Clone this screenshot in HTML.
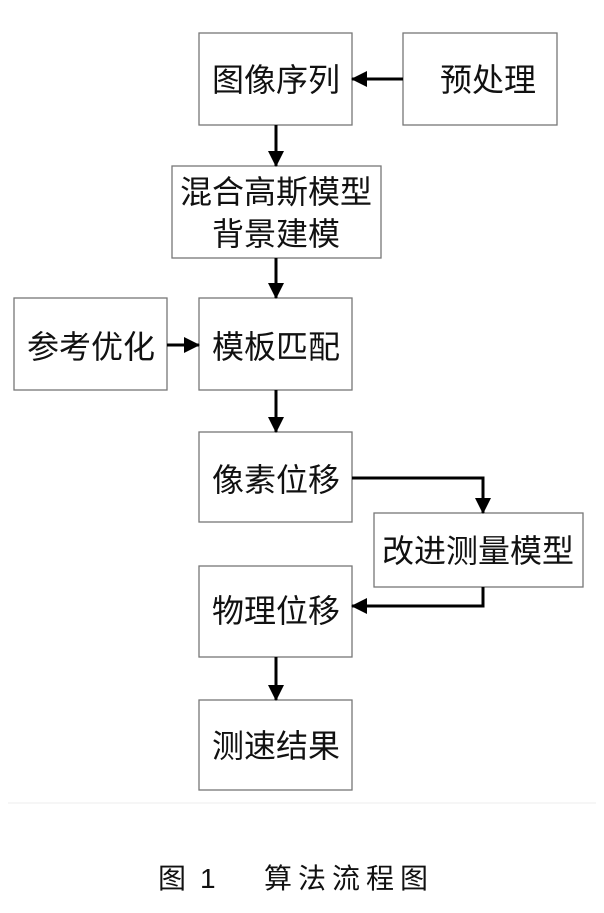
<!DOCTYPE html>
<html><head><meta charset="utf-8"><style>
body{margin:0;background:#fff;width:604px;height:908px;overflow:hidden}
svg text{font-family:"Liberation Sans","Noto Sans CJK SC",sans-serif;fill:#111}
</style></head><body>
<svg width="604" height="908" xmlns="http://www.w3.org/2000/svg">
<defs><marker id="b" markerWidth="16" markerHeight="16" refX="15" refY="8" orient="auto" markerUnits="userSpaceOnUse"><path d="M0,0 L16,8 L0,16 z" fill="#000"/></marker></defs>
<g fill="#fff" stroke="#777" stroke-width="1.3">
<rect x="199" y="33" width="153" height="92"/>
<rect x="403" y="33" width="154" height="92"/>
<rect x="172" y="166" width="209" height="92"/>
<rect x="14" y="298" width="153" height="92"/>
<rect x="199" y="298" width="153" height="92"/>
<rect x="199" y="432" width="153" height="90"/>
<rect x="374" y="513" width="209" height="74"/>
<rect x="199" y="566" width="153" height="91"/>
<rect x="199" y="700" width="153" height="90"/>
</g>
<g stroke="#000" stroke-width="3" fill="none">
<line x1="276" y1="125" x2="276" y2="166" marker-end="url(#b)"/>
<line x1="276" y1="258" x2="276" y2="298" marker-end="url(#b)"/>
<line x1="276" y1="390" x2="276" y2="432" marker-end="url(#b)"/>
<line x1="276" y1="657" x2="276" y2="700" marker-end="url(#b)"/>
<line x1="403" y1="79" x2="352" y2="79" marker-end="url(#b)"/>
<line x1="167" y1="345" x2="199" y2="345" marker-end="url(#b)"/>
<polyline points="352,478 483,478 483,513" marker-end="url(#b)"/>
<polyline points="483,587 483,606 352,606" marker-end="url(#b)"/>
</g>
<line x1="8" y1="803" x2="596" y2="803" stroke="#eee" stroke-width="1"/>
<g font-size="32" text-anchor="middle">
<text x="276" y="91">图像序列</text>
<text x="488" y="91">预处理</text>
<text x="276" y="203">混合高斯模型</text>
<text x="276" y="245">背景建模</text>
<text x="91" y="358">参考优化</text>
<text x="276" y="358">模板匹配</text>
<text x="276" y="491">像素位移</text>
<text x="478" y="562">改进测量模型</text>
<text x="276" y="622">物理位移</text>
<text x="276" y="757">测速结果</text>
</g>
<g font-size="28" style="font-family:'Liberation Serif','Noto Serif CJK SC',serif">
<text x="158" y="888">图</text>
<text x="200" y="888">1</text>
<text x="264" y="888" style="letter-spacing:6px">算法流程图</text>
</g>
</svg>
</body></html>
